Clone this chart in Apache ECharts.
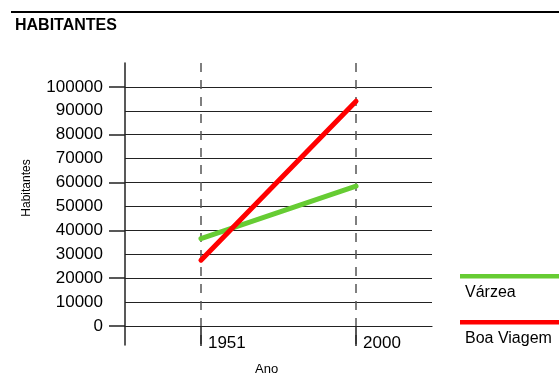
<!DOCTYPE html>
<html>
<head>
<meta charset="utf-8">
<script src="https://cdn.jsdelivr.net/npm/echarts@6/dist/echarts.min.js"></script>
<style>
  html, body { margin: 0; padding: 0; background: #ffffff; }
  #chart { width: 559px; height: 377px; }
</style>
</head>
<body>
<div id="chart"></div>
<script>
// Population of two neighbourhoods in the census years
const years = [1951, 2000];
const varzea = [36500, 58500];
const boaViagem = [27500, 94000];

// Value ticks drawn on the vertical axis
const yTickLabels = [0, 10000, 20000, 30000, 40000, 50000, 60000, 70000, 80000, 90000, 100000];
const yMajorTicks = [0, 20000, 40000, 60000, 80000, 100000];

const seriesNames = ['Várzea', 'Boa Viagem'];
const seriesColors = ['#66cc33', '#ff0000'];

const chart = echarts.init(document.getElementById('chart'), null, { renderer: 'canvas' });

const pairs = (vals) => years.map((y, i) => [y, vals[i]]);

const baseFont = "'Liberation Sans', Arial, sans-serif";

const legendCommon = {
  orient: 'vertical',
  selectedMode: false,
  padding: 0
};

chart.setOption({
  animation: false,
  backgroundColor: '#ffffff',
  title: [{
    text: 'HABITANTES',
    left: 11,
    top: 18,
    padding: [0, 4],
    textStyle: { fontFamily: baseFont, fontSize: 16, fontWeight: 'bold', color: '#000' }
  }, {
    // horizontal axis title
    text: 'Ano',
    left: 255,
    top: 363,
    padding: 0,
    textStyle: { fontFamily: baseFont, fontSize: 13, fontWeight: 'normal', color: '#000' }
  }],
  graphic: [{
    type: 'line',
    shape: { x1: 11, y1: 12, x2: 559, y2: 12 },
    style: { stroke: '#000', lineWidth: 2 }
  }],
  legend: [
    Object.assign({}, legendCommon, {
      data: [seriesNames[0]], left: 460, top: 274,
      icon: 'rect', itemWidth: 110, itemHeight: 4.5,
      formatter: () => ''
    }),
    Object.assign({}, legendCommon, {
      data: [seriesNames[1]], left: 460, top: 320,
      icon: 'rect', itemWidth: 110, itemHeight: 4.5,
      formatter: () => ''
    }),
    Object.assign({}, legendCommon, {
      data: [seriesNames[0]], left: 460, top: 285,
      icon: 'rect', itemWidth: 0, itemHeight: 0,
      textStyle: { fontFamily: baseFont, fontSize: 16, color: '#000' }
    }),
    Object.assign({}, legendCommon, {
      data: [seriesNames[1]], left: 460, top: 331,
      icon: 'rect', itemWidth: 0, itemHeight: 0,
      textStyle: { fontFamily: baseFont, fontSize: 16, color: '#000' }
    })
  ],
  grid: { left: 125, right: 127, top: 63, bottom: 32, containLabel: false, outerBoundsMode: 'none' },
  xAxis: {
    type: 'value',
    min: 1927,
    max: 2024,
    axisLine: { show: true, onZero: true, lineStyle: { color: '#222', width: 1.2 } },
    axisTick: {
      show: true, length: 20, customValues: years,
      lineStyle: { color: '#222', width: 1.5 }
    },
    axisLabel: {
      customValues: years, margin: -10, align: 'left', padding: [0, 0, 0, 7],
      fontFamily: baseFont, fontSize: 17, color: '#000',
      formatter: (v) => String(v)
    },
    splitLine: {
      show: true,
      lineStyle: { color: '#555', width: 1.5, type: [9, 8] }
    }
  },
  yAxis: [{
    // axis line and the longer ticks at every second value
    type: 'value',
    min: -8000,
    max: 110000,
    name: 'Habitantes',
    nameLocation: 'middle',
    nameGap: 92,
    nameMoveOverlap: false,
    nameTextStyle: { fontFamily: baseFont, fontSize: 12, color: '#000', padding: [0, 0, 0, 32] },
    axisLine: { show: true, lineStyle: { color: '#222', width: 1.5 } },
    axisTick: { show: true, length: 16, customValues: yMajorTicks, lineStyle: { color: '#222', width: 1.5 } },
    axisLabel: { show: false },
    splitLine: { show: false }
  }, {
    // value labels and horizontal grid lines
    type: 'value',
    min: -8000,
    max: 110000,
    position: 'left',
    axisLine: { show: false },
    axisTick: { show: false, customValues: yTickLabels },
    axisLabel: {
      customValues: yTickLabels, margin: 22,
      fontFamily: baseFont, fontSize: 17, color: '#000',
      formatter: (v) => String(v)
    },
    splitLine: { show: true, lineStyle: { color: '#222', width: 1.2 } }
  }],
  series: [
    {
      name: seriesNames[0], type: 'line', data: pairs(varzea),
      showSymbol: false, symbol: 'none',
      itemStyle: { color: seriesColors[0] },
      lineStyle: { color: seriesColors[0], width: 5, cap: 'round' },
      z: 3
    },
    {
      name: seriesNames[1], type: 'line', data: pairs(boaViagem),
      showSymbol: false, symbol: 'none',
      itemStyle: { color: seriesColors[1] },
      lineStyle: { color: seriesColors[1], width: 5, cap: 'round' },
      z: 4
    }
  ]
});
</script>
</body>
</html>
